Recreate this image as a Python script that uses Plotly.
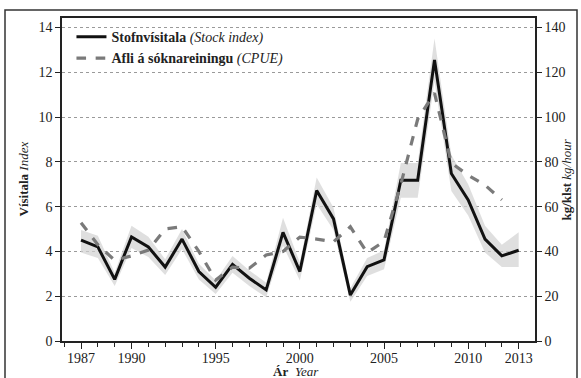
import plotly.graph_objects as go

years = list(range(1987, 2014))
stock_index = [4.5, 4.2, 2.75, 4.65, 4.2, 3.3, 4.55, 3.1, 2.4, 3.42, 2.8, 2.28, 4.85, 3.1,
               6.72, 5.45, 2.05, 3.32, 3.62, 7.18, 7.18, 12.55, 7.48, 6.3, 4.55, 3.8, 4.05]
stock_upper = [4.95, 4.7, 3.05, 5.15, 4.65, 3.65, 5.0, 3.45, 2.7, 3.8, 3.15, 2.6, 5.5, 3.5,
               7.3, 5.95, 2.35, 3.7, 4.05, 7.95, 7.95, 13.5, 8.3, 7.0, 5.15, 4.3, 4.85]
stock_lower = [3.95, 3.7, 2.45, 4.15, 3.75, 2.95, 4.1, 2.75, 2.1, 3.05, 2.45, 1.95, 4.25, 2.7,
               6.1, 4.95, 1.75, 2.9, 3.2, 6.4, 6.4, 11.6, 6.7, 5.6, 3.95, 3.3, 3.3]
cpue_years = list(range(1987, 2013))
cpue = [52.8, 43, 36, 38, 40.6, 50, 51, 40, 27.2, 33, 32.5, 38.4, 40, 46.4, 45.5, 44.3,
        51, 39.4, 44.5, 70, 99, 110.7, 79.5, 74, 69.6, 63]
x_tick_labels = [1987, 1990, 1995, 2000, 2005, 2010, 2013]
left_ticks = [0, 2, 4, 6, 8, 10, 12, 14]
right_ticks = [0, 20, 40, 60, 80, 100, 120, 140]

FONT = "Liberation Serif, Times New Roman, serif"

fig = go.Figure()
fig.add_trace(go.Scatter(x=years, y=stock_upper, mode="lines", line=dict(width=0),
                         showlegend=False, hoverinfo="skip"))
fig.add_trace(go.Scatter(x=years, y=stock_lower, mode="lines", line=dict(width=0),
                         fill="tonexty", fillcolor="rgba(210,210,210,0.7)",
                         showlegend=False, hoverinfo="skip"))
fig.add_trace(go.Scatter(x=cpue_years, y=cpue, mode="lines", yaxis="y2",
                         line=dict(color="#7a7a7a", width=3.2, dash="dash"),
                         name="<b>Afli á sóknareiningu</b> <i>(CPUE)</i>"))
fig.add_trace(go.Scatter(x=years, y=stock_index, mode="lines",
                         line=dict(color="#111111", width=3),
                         name="<b>Stofnvísitala</b> <i>(Stock index)</i>"))

# pixel-to-paper helpers for the fixed 581x378 canvas
L, R, T, B = 62, 46, 18, 37
PW, PH = 581 - L - R, 378 - T - B
def px(x): return (x - L) / PW
def py(y): return (378 - B - y) / PH

fig.update_layout(
    width=581, height=378,
    margin=dict(l=L, r=R, t=T, b=B, autoexpand=False),
    paper_bgcolor="white", plot_bgcolor="white",
    font=dict(family=FONT, size=14, color="#222"),
    legend=dict(x=0.02, y=0.99, xanchor="left", yanchor="top", traceorder="reversed",
                bgcolor="rgba(0,0,0,0)", font=dict(size=14, family=FONT),
                itemwidth=30, tracegroupgap=0),
    xaxis=dict(range=[1985.87, 2013.97], tickvals=x_tick_labels, ticks="outside",
               ticklen=6, tickwidth=1, tickcolor="#222", showgrid=False,
               tickfont=dict(family=FONT, size=14), ticklabelstandoff=-3,
               showline=True, linecolor="#222", linewidth=1.5, mirror=True,
               minor=dict(dtick=1, tick0=1987, ticks="outside", ticklen=4, tickcolor="#222"),
               zeroline=False),
    yaxis=dict(range=[0, 14.42], tickvals=left_ticks, ticks="outside", ticklen=5,
               tickcolor="#222", showline=True, linecolor="#222", linewidth=1.5,
               tickfont=dict(family=FONT, size=14),
               showgrid=True, gridcolor="#9a9a9a", griddash="dot", gridwidth=1,
               zeroline=False),
    yaxis2=dict(range=[0, 144.2], tickvals=right_ticks, overlaying="y", side="right",
                ticks="outside", ticklen=5, tickcolor="#222", showline=True,
                tickfont=dict(family=FONT, size=14),
                linecolor="#222", linewidth=1.5, showgrid=False, zeroline=False),
    annotations=[
        dict(text="<b>kg/klst</b> <i>kg/hour</i>", textangle=-90,
             x=px(566), y=0.5, xref="paper", yref="paper", showarrow=False,
             xanchor="center", yanchor="middle",
             font=dict(family=FONT, size=13, color="#222")),
        dict(text="<b>Vísitala</b> <i>Index</i>", textangle=-90,
             x=px(23), y=0.5, xref="paper", yref="paper", showarrow=False,
             xanchor="center", yanchor="middle",
             font=dict(family=FONT, size=13, color="#222")),
        dict(text="<b>Ár</b>", x=px(290), y=py(371), xref="paper", yref="paper",
             showarrow=False, xanchor="right", yanchor="middle",
             font=dict(family=FONT, size=13, color="#222")),
        dict(text="<i>Year</i>", x=px(293), y=py(371), xref="paper", yref="paper",
             showarrow=False, xanchor="left", yanchor="middle",
             font=dict(family=FONT, size=13, color="#222")),
    ],
    shapes=[dict(type="rect", xref="paper", yref="paper",
                 x0=px(5), x1=px(577), y0=py(390), y1=py(10),
                 line=dict(color="#333", width=1.5), fillcolor="rgba(0,0,0,0)", layer="below")],
)

fig.write_html("out.html", config={"displayModeBar": False},
               post_script="document.body.style.margin='0';document.body.style.overflow='hidden';")
